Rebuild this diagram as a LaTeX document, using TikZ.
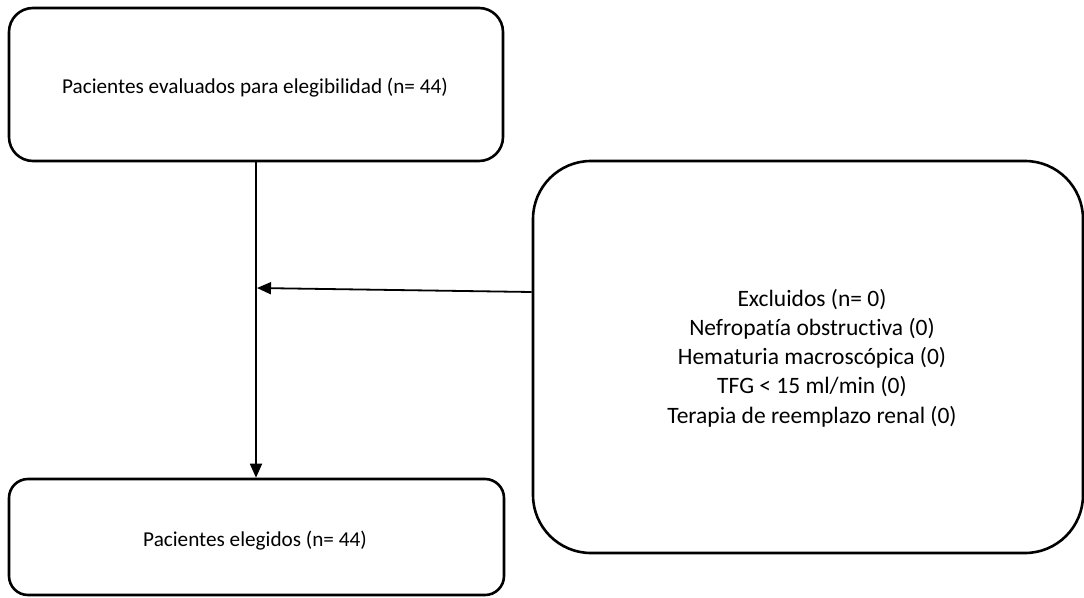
\documentclass[tikz,border=0pt]{standalone}
\usepackage{fontspec}
\setmainfont{Carlito}[Ligatures={NoCommon,NoRare,NoDiscretionary}]
\usetikzlibrary{arrows.meta}
\begin{document}
\begin{tikzpicture}[x=1pt,y=-1pt,
  boxstyle/.style={draw=black,line width=2.6pt,fill=white,inner sep=0pt},
  arr/.style={draw=black,line width=1.8pt,-{Triangle[length=14pt,width=12pt]}},
  smalltext/.style={font=\fontsize{21.2pt}{25.9pt}\selectfont,anchor=base,inner sep=0pt},
  bigtext/.style={font=\fontsize{23.5pt}{29.2pt}\selectfont,align=center,inner sep=0pt}]
\useasboundingbox (0,0) rectangle (1084,597);
\node[boxstyle,rounded corners=24pt,minimum width=494pt,minimum height=153pt] (top) at (256,84.5) {};
\node[smalltext] (toptext) at (255,93) {Pacientes evaluados para elegibilidad (n= 44)};
\node[boxstyle,rounded corners=19pt,minimum width=495pt,minimum height=116pt] (bot) at (256.5,537) {};
\node[smalltext] (bottext) at (255,546) {Pacientes elegidos (n= 44)};
\node[boxstyle,rounded corners=58pt,minimum width=550pt,minimum height=392pt] (ex) at (808,357) {};
\node[bigtext] (extext) at (812,358) {Excluidos (n= 0)\\Nefropatía obstructiva (0)\\Hematuria macroscópica (0)\\TFG < 15 ml/min (0)\\Terapia de reemplazo renal (0)};
\coordinate (exl) at ([yshift=65pt]ex.west);
\coordinate (join) at (257,288);
\draw[arr] (top.south) -- (top.south |- bot.north);
\draw[arr] (exl) -- (join);
\end{tikzpicture}
\end{document}
